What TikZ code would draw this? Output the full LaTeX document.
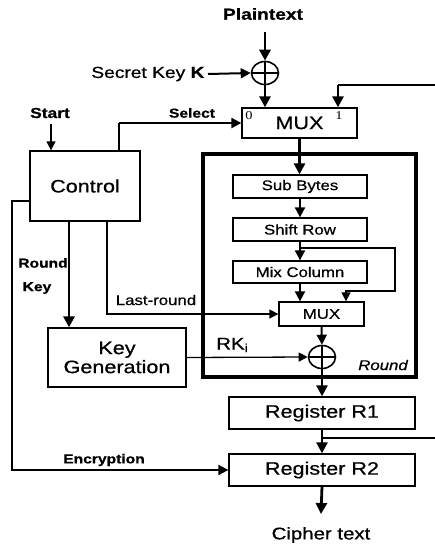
\documentclass[tikz,border=0pt]{standalone}
\usepackage{fontspec}
\setmainfont{Liberation Sans}[FakeStretch=1.2,FakeBold=0.7]
\newfontfamily\serifdig{Liberation Serif}[FakeStretch=1.2]
\usetikzlibrary{arrows.meta,shapes.geometric,calc}
\begin{document}
\begin{tikzpicture}[x=1pt,y=-1pt,
  box/.style={draw,line width=1.3pt,inner sep=0pt,rectangle},
  thinln/.style={line width=1.3pt},
  thinarr/.style={line width=1.3pt,-{Triangle[length=9pt,width=9pt]}},
  medarr/.style={line width=2pt,-{Triangle[length=10pt,width=10pt]}},
  thickarr/.style={line width=2.8pt,-{Triangle[length=11pt,width=11pt]}},
  xorop/.style={draw,ellipse,line width=1.6pt,minimum width=27pt,minimum height=23pt,inner sep=0pt,
    path picture={\draw[line width=1.6pt] (path picture bounding box.north) -- (path picture bounding box.south)
      (path picture bounding box.west) -- (path picture bounding box.east);}},
  big/.style={font=\fontsize{18}{20}\selectfont},
  small/.style={font=\fontsize{14}{16}\selectfont},
  lab/.style={font=\fontsize{13}{15}\selectfont\bfseries},
]
\useasboundingbox (0,0) rectangle (435,546);

% nodes
\node[font=\fontsize{16}{19}\selectfont\bfseries] (plain) at (263,14) {Plaintext};
\node[xorop] (xor1) at (265,73) {};
\node[font=\fontsize{16}{19}\selectfont,anchor=east] (seckey) at (208,74) {Secret Key \textbf{K}};
\node[box,big,minimum width=115pt,minimum height=30pt] (mux1) at (299.5,123) {MUX};
\node[font=\fontsize{12}{12}\selectfont\serifdig] (in0) at (249,116) {0};
\node[font=\fontsize{12}{12}\selectfont\serifdig] (in1) at (339,116) {1};
\node[font=\fontsize{14.5}{17}\selectfont\bfseries] (start) at (50,113) {Start};
\node[box,big,minimum width=110pt,minimum height=70pt] (ctrl) at (85,186) {Control};
\node[lab] (sel) at (192,113) {Select};
\node[draw,line width=3.5pt,inner sep=0pt,minimum width=213pt,minimum height=223pt] (rnd) at (309.5,265.5) {};
\node[box,small,minimum width=134pt,minimum height=23pt] (sub) at (300,186.5) {Sub Bytes};
\node[box,small,minimum width=134pt,minimum height=23pt] (shift) at (300,229.5) {Shift Row};
\node[box,small,minimum width=134pt,minimum height=22pt] (mix) at (300,272) {Mix Column};
\node[box,small,minimum width=85pt,minimum height=24pt] (mux2) at (321.5,314) {MUX};
\node[xorop] (xor2) at (322,357) {};
\node[box,big,minimum width=138pt,minimum height=59pt,align=center] (keygen) at (117,357.5) {Key\\[-1pt]Generation};
\node[box,big,minimum width=186pt,minimum height=32pt] (r1) at (322,413) {Register R1};
\node[box,big,minimum width=186pt,minimum height=32pt] (r2) at (322,470) {Register R2};
\node[font=\fontsize{17}{19}\selectfont] (cipher) at (321,535) {Cipher text};

% labels
\node[lab] (rkl1) at (43,263) {Round};
\node[lab] (rkl2) at (37,288) {Key};
\node[font=\fontsize{14}{16}\selectfont] (lrl) at (156,300) {Last-round};
\node[lab] (encl) at (104,460) {Encryption};
\node[font=\fontsize{17}{19}\selectfont] (rkil) at (232,345) {RK$_{\mathrm{i}}$};
\node[font=\fontsize{14}{16}\selectfont\itshape] (rndl) at (383,365) {Round};

% coordinates
\coordinate (fbR) at (435,85);
\coordinate (fbC) at (338,85);
\coordinate (bp) at (300,248);
\coordinate (bp1) at (395,248);
\coordinate (bp2) at (395,291);
\coordinate (bp3) at (346,291);
\coordinate (r1b) at (322,438);
\coordinate (r1bR) at (435,438);
\coordinate (ptop) at (265,32);
\coordinate (ctop) at (321,514);
\coordinate (stop) at (51,124);

% connectors
\draw[thickarr] (ptop) -- (xor1.north);
\draw[thickarr] (xor1.south) -- (xor1.south |- mux1.north);
\draw[medarr] (seckey.east) -- (xor1.west);
\draw[thinln] (fbR) -- (fbC);
\draw[thickarr] (fbC) -- (fbC |- mux1.north);
\draw[thinarr] (stop) -- (stop |- ctrl.north);
\draw[thinln] ([xshift=34pt]ctrl.north) -- ([xshift=34pt]ctrl.north |- mux1.west);
\draw[medarr] ([xshift=34pt]ctrl.north |- mux1.west) -- (mux1.west);
\draw[medarr] ([yshift=-15pt]ctrl.west) -- ++(-17,0) |- (r2.west);
\draw[thickarr] ([xshift=-16pt]ctrl.south) -- ([xshift=-16pt]ctrl.south |- keygen.north);
\draw[thinarr] ([xshift=22pt]ctrl.south) |- (mux2.west);
\draw[thickarr] (mux1.south) -- (mux1.south |- sub.north);
\draw[medarr] (sub.south) -- (shift.north);
\draw[medarr] (shift.south) -- (mix.north);
\draw[thinarr] (bp) -- (bp1) -- (bp2) -- (bp3) -- (bp3 |- mux2.north);
\draw[medarr] (mix.south) -- (mix.south |- mux2.north);
\draw[medarr] (mux2.south) -- (xor2.north);
\draw[thickarr] (xor2.south) -- (xor2.south |- r1.north);
\draw[thinarr] (keygen.east) -- (xor2.west);
\draw[thickarr] (r1.south) -- (r2.north);
\draw[thinln] (r1b) -- (r1bR);
\draw[thickarr] (r2.south) -- (ctop);
\end{tikzpicture}
\end{document}
